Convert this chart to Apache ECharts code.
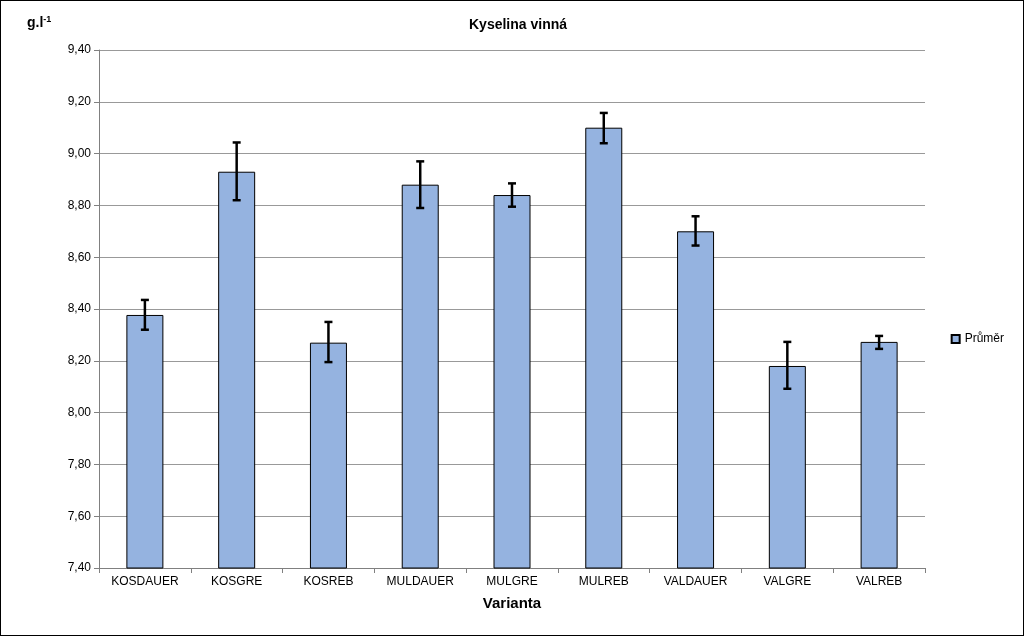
<!DOCTYPE html>
<html><head><meta charset="utf-8">
<script src="https://cdn.jsdelivr.net/npm/echarts@6/dist/echarts.min.js"></script>
<style>html,body{margin:0;padding:0;background:#fff}#c{width:1024px;height:636px;box-sizing:border-box;border:1px solid #000}</style>
</head><body><div id="c"></div>
<script>
const categories=['KOSDAUER','KOSGRE','KOSREB','MULDAUER','MULGRE','MULREB','VALDAUER','VALGRE','VALREB'];
const means=[8.377,8.93,8.27,8.88,8.84,9.10,8.70,8.18,8.273];
const errLow=[8.32,8.82,8.195,8.79,8.795,9.04,8.645,8.092,8.246];
const errHigh=[8.435,9.043,8.35,8.97,8.885,9.157,8.758,8.273,8.296];
const chart=echarts.init(document.getElementById('c'));
chart.setOption({
  animation:false,
  title:{text:'Kyselina vinná',left:512,top:12,textAlign:'center',textStyle:{fontFamily:'Arial, Liberation Sans',fontSize:14,fontWeight:'bold',color:'#000'}},
  graphic:[{type:'text',left:26,top:14,style:{text:'{a|g.l}{b|-1}',rich:{a:{fontFamily:'Liberation Sans',fontSize:14,fontWeight:'bold',fill:'#000'},b:{fontFamily:'Liberation Sans',fontSize:9,fontWeight:'bold',fill:'#000',verticalAlign:'top',padding:[0,0,8,0]}}}}],
  legend:{right:14,top:327,orient:'vertical',itemWidth:8,itemHeight:8,icon:'rect',textStyle:{fontFamily:'Liberation Sans',fontSize:12,color:'#000'},data:['Průměr']},
  grid:{left:98,right:98,top:49,bottom:67,containLabel:false},
  xAxis:{type:'category',data:categories,name:'Varianta',nameLocation:'middle',nameGap:28,
    nameTextStyle:{fontFamily:'Liberation Sans',fontSize:15,fontWeight:'bold',color:'#000'},
    axisLine:{lineStyle:{color:'#808080'}},axisTick:{show:true,lineStyle:{color:'#808080'}},
    axisLabel:{fontFamily:'Liberation Sans',fontSize:12,color:'#000',margin:8}},
  yAxis:{type:'value',min:7.4,max:9.4,interval:0.2,
    axisLine:{show:true,lineStyle:{color:'#808080'}},axisTick:{show:true,lineStyle:{color:'#808080'}},
    splitLine:{lineStyle:{color:'#999'}},
    axisLabel:{fontFamily:'Liberation Sans',fontSize:12,color:'#000',formatter:v=>v.toFixed(2).replace('.',',')}},
  series:[
    {name:'Průměr',type:'bar',data:means,barWidth:37,itemStyle:{color:'#95b3e0',borderColor:'#000',borderWidth:1}},
    {type:'custom',silent:true,data:categories.map((c,i)=>[i,errLow[i],errHigh[i]]),
     renderItem:(p,api)=>{const lo=api.coord([api.value(0),api.value(1)]);const hi=api.coord([api.value(0),api.value(2)]);const w=4;
       const s={stroke:'#000',lineWidth:2.5};
       return {type:'group',children:[
        {type:'line',shape:{x1:lo[0],y1:lo[1],x2:hi[0],y2:hi[1]},style:s},
        {type:'line',shape:{x1:lo[0]-w,y1:lo[1],x2:lo[0]+w,y2:lo[1]},style:s},
        {type:'line',shape:{x1:hi[0]-w,y1:hi[1],x2:hi[0]+w,y2:hi[1]},style:s}]};},z:10}
  ]
});
</script></body></html>
